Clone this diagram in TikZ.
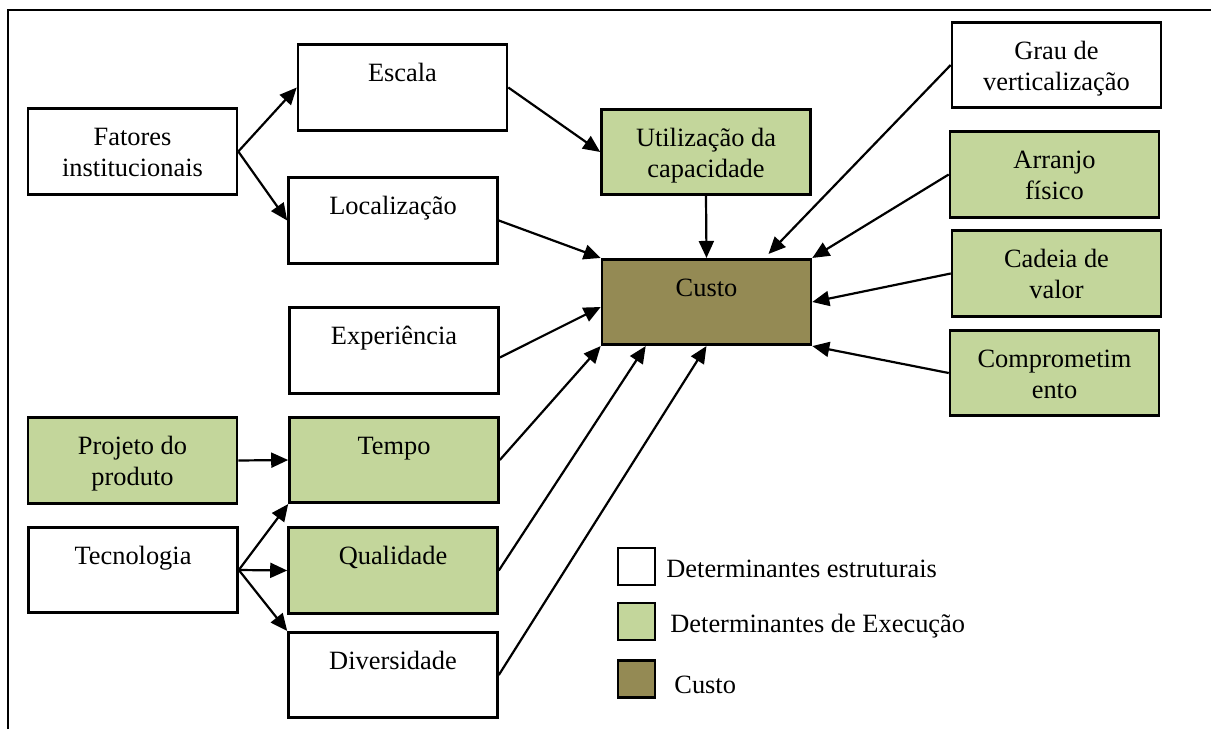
\documentclass[tikz,border=0pt]{standalone}
\usepackage{fontspec}
\setmainfont{Liberation Serif}
\usetikzlibrary{arrows.meta, positioning}

\definecolor{execgreen}{HTML}{C3D69B}
\definecolor{custoolive}{HTML}{948A54}
\newcommand{\boxfont}{\fontsize{13.2pt}{15.5pt}\selectfont}

\tikzset{
    box/.style={draw, line width=1.3pt, minimum width=104.5pt, minimum height=42.75pt, inner sep=0pt},
    estr/.style={box, fill=white},
    exec/.style={box, fill=execgreen},
    txt/.style={label={[anchor=north, align=center, inner sep=0pt, yshift=-8.2pt, font=\boxfont]north:\strut #1}},
    seta/.style={-{Triangle[length=8.5pt, width=7.5pt]}, line width=1.1pt},
    leg/.style={draw, line width=1.3pt, minimum size=18.5pt, inner sep=0pt},
    legtxt/.style={anchor=base west, inner sep=0pt, font=\boxfont},
}

\begin{document}
\begin{tikzpicture}[x=0.5pt, y=-0.5pt]
    \useasboundingbox (0,0) rectangle (1211,729);
    \draw[line width=1.3pt] (8,729) -- (8,10) -- (1211,10);

    \node[estr, txt={Fatores\\institucionais}] (fat) at (132.5,151.5) {};
    \node[estr, txt={Escala}] (esc) at (402.5,87.5) {};
    \node[estr, txt={Localização}] (loc) at (393,220.5) {};
    \node[exec, txt={Utilização da\\capacidade}] (util) at (706,152) {};
    \node[box, fill=custoolive, txt={Custo}] (custo) at (706.5,302) {};
    \node[estr, txt={Grau de\\verticalização}] (grau) at (1056.5,65) {};
    \node[exec, txt={Arranjo\\físico}] (arr) at (1054.5,174.5) {};
    \node[exec, txt={Cadeia de\\valor}] (cad) at (1056.5,273.5) {};
    \node[exec, txt={Comprometim\\ento}] (comp) at (1054.5,373) {};
    \node[estr, txt={Experiência}] (exp) at (394,350.5) {};
    \node[exec, txt={Projeto do\\produto}] (proj) at (132.5,460.5) {};
    \node[exec, txt={Tempo}] (tempo) at (394,460) {};
    \node[estr, txt={Tecnologia}] (tec) at (133,570) {};
    \node[exec, txt={Qualidade}] (qual) at (393,570.5) {};
    \node[estr, txt={Diversidade}] (div) at (393,675) {};

    \node[leg, fill=white] (leg1) at (636.5,566.5) {};
    \node[leg, fill=execgreen] (leg2) at (636.5,621.5) {};
    \node[leg, fill=custoolive] (leg3) at (636.5,679) {};
    \node[legtxt] (legt1) at (666,577) {Determinantes estruturais};
    \node[legtxt] (legt2) at (670,632) {Determinantes de Execução};
    \node[legtxt] (legt3) at (674,693) {Custo};

    \draw[seta] (fat.east) -- (esc.west);
    \draw[seta] (fat.east) -- (loc.west);
    \draw[seta] (esc.east) -- (util.west);
    \draw[seta] (util.south) -- (custo.north);
    \draw[seta] (loc.east) -- (custo.north west);
    \draw[seta] ([yshift=-3.5pt]exp.east) -- ([yshift=-2.5pt]custo.west);
    \draw[seta] (tempo.east) -- (custo.south west);
    \draw[seta] (qual.east) -- ([xshift=22.5pt]custo.south west);
    \draw[seta] (div.east) -- (custo.south);
    \draw[seta] (grau.west) -- ([xshift=31pt, yshift=2pt]custo.north);
    \draw[seta] (arr.west) -- (custo.north east);
    \draw[seta] (cad.west) -- (custo.east);
    \draw[seta] (comp.west) -- (custo.south east);
    \draw[seta] (proj.east) -- (tempo.west);
    \draw[seta] (tec.east) -- (tempo.south west);
    \draw[seta] (tec.east) -- (qual.west);
    \draw[seta] (tec.east) -- (div.north west);
\end{tikzpicture}
\end{document}
